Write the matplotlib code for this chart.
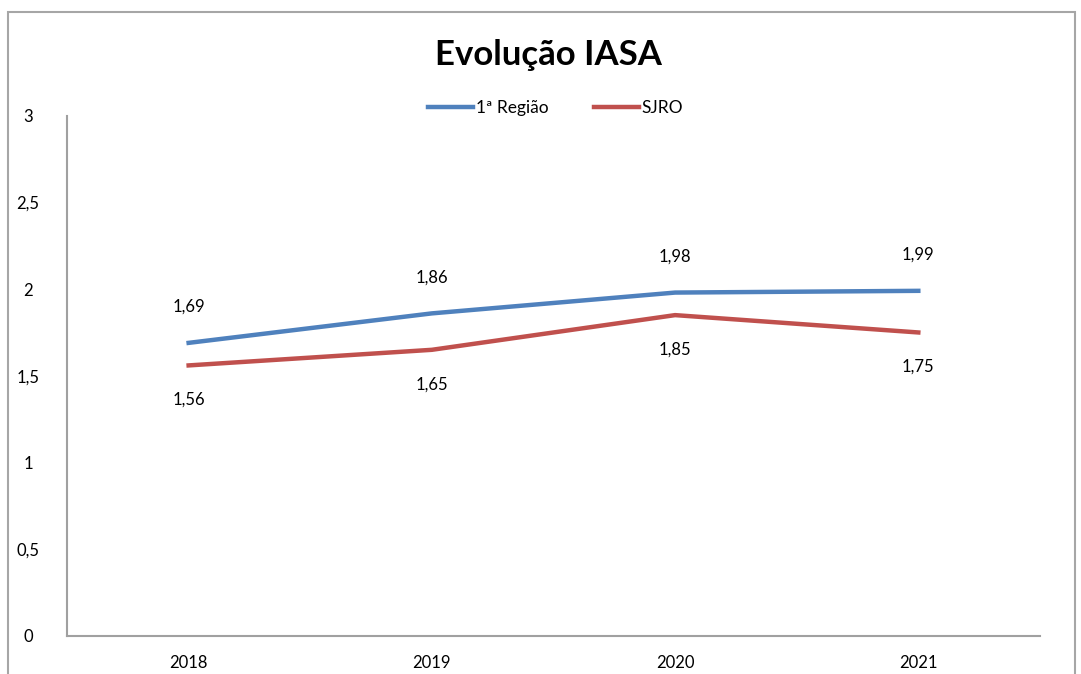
import matplotlib.pyplot as plt
from matplotlib.patches import Rectangle

anos = ['2018', '2019', '2020', '2021']
regiao1 = [1.69, 1.86, 1.98, 1.99]
sjro = [1.56, 1.65, 1.85, 1.75]
yticks = [0, 0.5, 1, 1.5, 2, 2.5, 3]

plt.rcParams['font.family'] = ['Lato', 'DejaVu Sans']

fig = plt.figure(figsize=(10.81, 6.74), dpi=100)
ax = fig.add_axes([0.062, 0.0564, 0.9, 0.772])

# moldura externa do gráfico
fig.patches.append(Rectangle((8 / 1081, -0.1), 1067 / 1081, 1.1 - 12 / 674,
                             transform=fig.transFigure, fill=False,
                             edgecolor='#a6a6a6', linewidth=1.5))

x = range(len(anos))
ax.plot(x, regiao1, color='#4f81bd', linewidth=3.2, label='1ª Região')
ax.plot(x, sjro, color='#c0504d', linewidth=3.2, label='SJRO')

for i, v in enumerate(regiao1):
    ax.annotate(f'{v:.2f}'.replace('.', ','), (i, v), xytext=(0, 20),
                textcoords='offset points', ha='center', va='bottom', fontsize=12)
for i, v in enumerate(sjro):
    ax.annotate(f'{v:.2f}'.replace('.', ','), (i, v), xytext=(0, -19),
                textcoords='offset points', ha='center', va='top', fontsize=12)

ax.set_xlim(-0.5, 3.5)
ax.set_ylim(0, 3)
ax.set_xticks(list(x))
ax.set_xticklabels(anos, fontsize=12)
ax.set_yticks(yticks)
ax.set_yticklabels([f'{t:g}'.replace('.', ',') for t in yticks], fontsize=12,
                   ha='center')
ax.tick_params(length=0)
ax.tick_params(axis='x', pad=14)
ax.tick_params(axis='y', pad=28)

for s in ['top', 'right']:
    ax.spines[s].set_visible(False)
for s in ['left', 'bottom']:
    ax.spines[s].set_color('#a0a0a0')
    ax.spines[s].set_linewidth(1.5)

fig.suptitle('Evolução IASA', x=0.507, y=0.918, va='center', fontsize=25,
             fontweight='bold')
fig.legend(loc='center', bbox_to_anchor=(0.514, 0.84), ncol=2, frameon=False,
           fontsize=12.5, handlelength=2.6, handletextpad=0.15, columnspacing=2.6)

fig.savefig('out.png', dpi=100)
